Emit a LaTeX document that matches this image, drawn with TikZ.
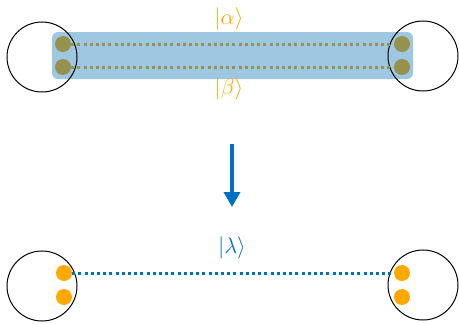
\documentclass[tikz,border=0pt]{standalone}
\usepackage{amsmath,amssymb}
\usepackage{graphicx}
\usepackage{tikz}
\usetikzlibrary{calc,arrows.meta}

\definecolor{bandblue}{RGB}{158,199,226}
\definecolor{olive}{RGB}{150,145,76}
\definecolor{amber}{RGB}{255,168,0}
\definecolor{deepblue}{RGB}{0,112,192}

\newcommand{\bigket}[1]{\scalebox{1.3}{$|#1\rangle$}}

\tikzset{
  site/.style={circle,draw=black,line width=1pt,minimum size=70pt,inner sep=0pt},
  dot/.style={circle,fill=#1,minimum size=16pt,inner sep=0pt},
  bond/.style={#1,line width=3pt,dash pattern=on 3pt off 3.2pt},
  ket/.style={text=#1,font=\fontsize{17.28}{20}\selectfont,inner sep=0pt}
}

\begin{document}
\begin{tikzpicture}[x=1pt,y=-1pt]
  \useasboundingbox (0,0) rectangle (459,324);

  % Oben: zwei Plätze mit gemeinsamem Band
  \fill[bandblue,rounded corners=6pt] (52,32) rectangle (413,79);
  \node[site] (SL) at (42,57) {};
  \node[site] (SR) at (423,56) {};

  \node[dot=olive] (a1) at (63,44) {};
  \node[dot=olive] (a2) at (63,67) {};
  \node[dot=olive] (b1) at (402,44) {};
  \node[dot=olive] (b2) at (402,67) {};

  \draw[bond=olive] (a1) -- (b1);
  \draw[bond=olive] (a2) -- (b2);

  \node[ket=amber] (alpha) at (229,19) {\bigket{\alpha}};
  \node[ket=amber] (beta) at (229,89) {\bigket{\beta}};

  % Pfeil
  \coordinate (P) at (232,144);
  \coordinate (Q) at (232,207);
  \draw[deepblue,line width=3.5pt,-{Triangle[length=15pt,width=16pt]}] (P) -- (Q);

  % Unten: getrennte Plätze
  \node[site] (TL) at (42,286) {};
  \node[site] (TR) at (423,285) {};

  \node[dot=amber] (c1) at (64,273) {};
  \node[dot=amber] (c2) at (64,297) {};
  \node[dot=amber] (d1) at (402,273) {};
  \node[dot=amber] (d2) at (402,297) {};

  \draw[bond=deepblue] (c1) -- (d1);

  \node[ket=deepblue] (lambda) at (232,248) {\bigket{\lambda}};
\end{tikzpicture}
\end{document}
